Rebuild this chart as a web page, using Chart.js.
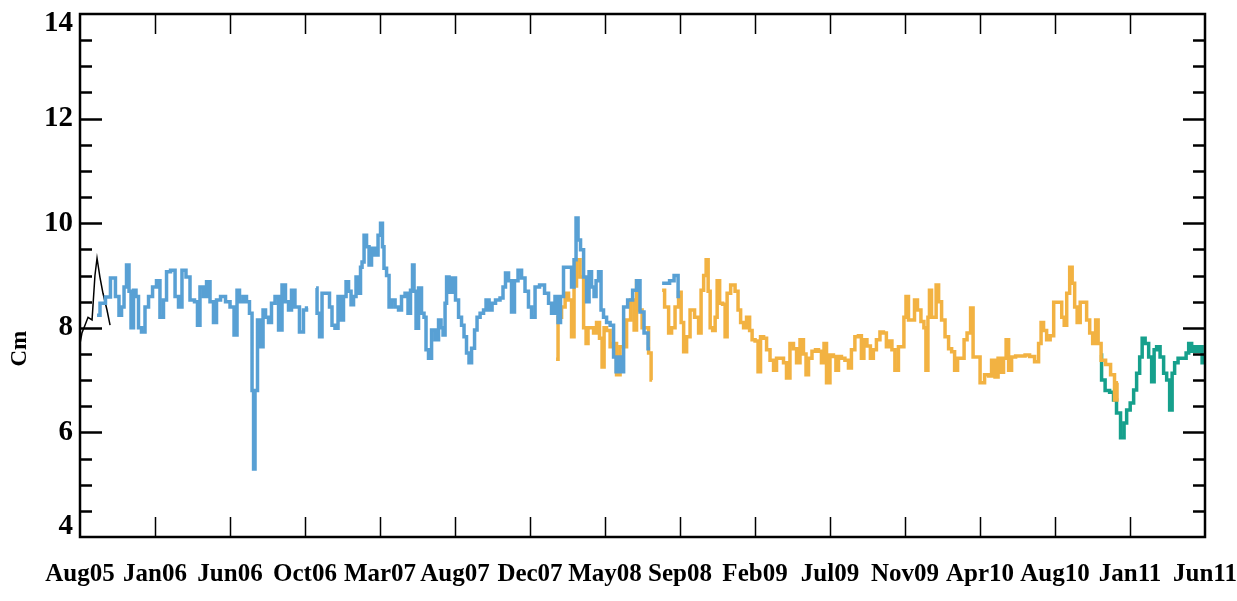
<!DOCTYPE html>
<html>
<head>
<meta charset="utf-8">
<script src="https://cdn.jsdelivr.net/npm/chart.js@4.4.0/dist/chart.umd.min.js"></script>
<style>
  html, body { margin: 0; padding: 0; background: #fff; }
  #wrap { width: 1237px; height: 601px; }
</style>
</head>
<body>
<div id="wrap"><canvas id="lineChart" width="1237" height="601"></canvas></div>
<script>
// x = months since Aug 2005, y = Cm
var tickLabels = ['Aug05', 'Jan06', 'Jun06', 'Oct06', 'Mar07', 'Aug07', 'Dec07', 'May08', 'Sep08',
    'Feb09', 'Jul09', 'Nov09', 'Apr10', 'Aug10', 'Jan11', 'Jun11'];
var spanMonths = 70;
var yTicks = [4, 6, 8, 10, 12, 14];
var yTitle = 'Cm';

var blackMonths = [0.00, 0.12, 0.31, 0.50, 0.75, 0.93, 1.06, 1.24, 1.43, 1.68, 1.87];
var blackCm = [7.70, 7.90, 8.05, 8.20, 8.15, 9.00, 9.33, 8.97, 8.66, 8.34, 8.05];

var blueMonths = [1.06, 1.43, 1.74, 2.05, 2.36, 2.49, 2.68, 2.80, 2.99, 3.11, 3.24, 3.42, 3.55, 3.73, 3.92,
    4.17, 4.36, 4.67, 4.85, 5.10, 5.29, 5.48, 5.79, 6.04, 6.22, 6.47, 6.72, 6.97, 7.28, 7.34, 7.59, 7.78,
    7.97, 8.21, 8.40, 8.59, 8.90, 9.21, 9.46, 9.71, 9.83, 10.02, 10.27, 10.45, 10.64, 10.77, 10.83, 10.95,
    11.14, 11.33, 11.45, 11.64, 11.82, 12.01, 12.26, 12.45, 12.69, 12.88, 13.07, 13.25, 13.50, 13.81,
    14.00, 14.19, 14.45,
    14.69, 14.81, 15.00, 15.12, 15.43, 15.62, 15.74, 15.99, 16.12, 16.30, 16.49, 16.62, 16.80, 16.93,
    17.11, 17.24, 17.42, 17.49, 17.61, 17.74, 17.92, 18.05, 18.23, 18.48, 18.61, 18.79, 18.85, 18.98,
    19.17, 19.29, 19.48, 19.73, 19.91, 20.10, 20.35, 20.47, 20.66, 20.72, 20.85, 20.97, 21.16, 21.34,
    21.47, 21.59, 21.78, 21.97, 22.22, 22.40, 22.53, 22.65, 22.78, 22.84, 23.09, 23.27, 23.46, 23.65,
    23.83, 23.96, 24.14, 24.27, 24.46, 24.64, 24.77, 25.02, 25.20, 25.33, 25.58, 25.70, 26.01, 26.26,
    26.38, 26.57, 26.76, 26.94, 27.13, 27.38, 27.57, 27.81, 28.00, 28.19, 28.44, 28.75, 29.06, 29.25,
    29.43, 29.68, 29.81, 29.99, 30.18, 30.49, 30.68, 30.80, 30.93, 31.05, 31.24, 31.43, 31.61, 31.74,
    31.92, 32.05, 32.17, 32.36, 32.48, 32.67, 32.86, 33.11, 33.29, 33.42, 33.60, 33.73, 33.92, 34.23,
    34.54, 34.72, 34.97, 35.22, 35.47, 35.85,
    36.22, 36.53, 36.84, 37.09, 37.34];
var blueCm = [8.24, 8.47, 8.59, 8.95, 8.60, 8.24, 8.40, 8.78, 9.20, 8.70, 8.00, 8.72, 8.60, 8.00, 7.92,
    8.40, 8.60, 8.78, 8.90, 8.20, 8.53, 9.07, 9.10, 8.60, 8.40, 9.10, 8.97, 8.53, 8.50, 8.05, 8.78, 8.60,
    8.88, 8.50, 8.10, 8.53, 8.60, 8.50, 8.40, 7.86, 8.72, 8.50, 8.60, 8.50, 8.28, 6.80, 5.30, 6.80,
    8.15, 7.64, 8.34, 8.20, 8.10, 8.47, 8.60, 7.96, 8.82, 8.50, 8.34, 8.72, 8.40, 7.92,
    8.34, 8.38, null,
    8.76, 8.28, 7.83, 8.66, 8.66, 8.40, 8.05, 7.99, 8.60, 8.15, 8.60, 8.88, 8.70, 8.44,
    8.60, 8.97, 8.66, 9.16, 9.26, 9.77, 9.55, 9.20, 9.52, 9.39, 9.77, 10.00, 9.55, 9.14,
    9.00, 8.40, 8.53, 8.40, 8.34, 8.60, 8.66, 8.28, 8.72, 9.20, 8.70, 7.99, 8.76, 8.28,
    8.20, 7.58, 7.42, 7.96, 7.77, 8.15, 8.00, 7.86, 8.47, 8.97, 8.68, 8.95, 8.53, 8.20,
    8.05, 7.83, 7.52, 7.33, 7.61, 7.96, 8.20, 8.28, 8.34, 8.53, 8.34, 8.47, 8.53, 8.57,
    8.78, 9.05, 8.90, 8.30, 8.90, 9.10, 8.95, 8.70, 8.40, 8.20, 8.78, 8.82, 8.66, 8.47,
    8.28, 8.60, 8.10, 8.60, 9.16, 9.16, 8.78, 9.30, 10.10, 9.68, 9.49, 8.97, 8.50, 9.07,
    8.78, 8.60, 8.90, 9.07, 8.34, 8.20, 8.10, 8.05, 7.44, 7.16, 7.44, 7.16, 8.40, 8.53,
    8.72, 8.90, 8.30, 7.90, 7.60, null,
    8.85, 8.85, 8.90, 9.00, 8.60];

var orangeMonths = [29.62, 29.87, 30.06, 30.31, 30.49, 30.68, 30.80, 30.99, 31.24, 31.43, 31.55, 31.67,
    31.86, 32.05, 32.23, 32.42, 32.55, 32.67, 32.86, 33.11, 33.29, 33.48, 33.73, 33.92, 34.10, 34.42,
    34.54, 34.72, 34.85, 35.10, 35.29, 35.47, 35.60, 35.90,
    36.22, 36.53, 36.72, 36.90, 37.15, 37.34, 37.47, 37.65, 37.84, 38.08, 38.40, 38.58, 38.71, 38.90,
    39.02, 39.15, 39.27, 39.46, 39.58, 39.71, 39.89, 40.08, 40.20, 40.33, 40.64, 40.88, 41.01, 41.20,
    41.38, 41.57, 41.76, 41.88, 42.13, 42.25, 42.44, 42.63, 42.81, 43.06, 43.25, 43.43, 43.68, 43.87,
    44.05, 44.30, 44.49, 44.68, 44.92, 45.11, 45.24, 45.42, 45.67, 45.86, 46.04, 46.23, 46.36, 46.54,
    46.79, 46.97, 47.10, 47.29, 47.47, 47.72, 47.91, 48.09, 48.34, 48.53, 48.71, 48.84, 49.09, 49.27,
    49.46, 49.65, 49.90, 50.08, 50.27, 50.46, 50.58, 50.83, 51.02, 51.20, 51.33, 51.46, 51.64, 51.83,
    52.02, 52.20, 52.45, 52.57, 52.70, 52.82, 52.89, 53.08, 53.21, 53.33, 53.52, 53.70, 53.95, 54.14,
    54.33, 54.51, 54.70, 54.95, 55.07, 55.32, 55.51, 55.63, 55.88, 56.13, 56.44, 56.63, 56.81, 57.06,
    57.19, 57.37, 57.56, 57.69, 57.87, 58.06, 58.37, 58.68, 58.93, 59.24, 59.55, 59.74, 59.86, 60.05,
    60.24, 60.49, 60.68, 60.99, 61.18, 61.30, 61.49, 61.67, 61.80, 61.98, 62.11, 62.36, 62.54, 62.73,
    62.92, 63.10, 63.29, 63.41, 63.66, 63.97, 64.28, 64.46, 64.59];
var orangeCm = [7.40, 8.20, 8.40, 8.66, 8.53, 7.83, 8.80, 9.30, 8.97, 8.00, 7.70, 8.00,
    8.00, 7.90, 8.10, 7.80, 7.25, 8.00, 7.95, 7.64, 7.70, 7.10, 7.64, 7.64, 8.15, 8.53,
    7.96, 8.90, 8.34, 8.00, 8.00, 7.52, 7.00, null,
    8.72, 8.40, 7.90, 8.00, 8.40, 8.68, 8.10, 7.54, 7.83, 8.34, 8.20, 7.90, 8.72, 9.00,
    9.30, 8.70, 8.00, 7.95, 8.20, 8.90, 8.47, 8.45, 7.83, 8.66, 8.82, 8.70, 8.34, 8.10,
    8.00, 8.20, 7.95, 7.77, 7.75, 7.16, 7.83, 7.80, 7.58, 7.38, 7.19, 7.42, 7.42, 7.33,
    7.04, 7.70, 7.60, 7.33, 7.77, 7.50, 7.10, 7.42, 7.55, 7.58, 7.55, 7.33, 7.70, 6.95,
    7.48, 7.45, 7.19, 7.45, 7.42, 7.38, 7.23, 7.58, 7.83, 7.85, 7.42, 7.77, 7.65, 7.42,
    7.58, 7.77, 7.92, 7.90, 7.64, 7.75, 7.58, 7.19, 7.64, 7.64, 8.20, 8.60, 8.15, 8.15,
    8.53, 8.34, 8.12, 8.00, 7.19, 8.20, 8.72, 8.20, 8.20, 8.82, 8.50, 8.15, 7.83, 7.60,
    7.54, 7.19, 7.42, 7.42, 7.77, 7.90, 8.38, 7.44, 7.44, 6.95, 7.10, 7.08, 7.38, 7.06,
    7.42, 7.15, 7.42, 7.77, 7.19, 7.44, 7.46, 7.46, 7.48, 7.45, 7.35, 7.70, 8.10, 7.95,
    7.77, 7.85, 8.49, 8.49, 8.20, 8.05, 8.66, 9.16, 8.85, 8.40, 8.10, 8.49, 8.49, 8.15,
    7.90, 7.70, 8.15, 7.70, 7.38, 7.30, 7.10, 6.62, 6.95];

var tealMonths = [63.47, 63.66, 63.91, 64.22, 64.40, 64.59, 64.90, 65.03, 65.22, 65.47, 65.65, 65.84,
    66.03, 66.15, 66.40, 66.59, 66.77, 66.90, 67.08, 67.33, 67.52, 67.71, 67.89, 68.02, 68.20, 68.45,
    68.76, 68.89, 69.08, 69.26, 69.39, 69.64, 69.76, 69.88, 70.00];
var tealCm = [7.48, 7.00, 6.80, 6.77, 6.62, 6.37, 5.90, 6.18, 6.43, 6.56, 6.81, 7.13,
    7.44, 7.80, 7.70, 7.44, 6.97, 7.58, 7.64, 7.44, 7.13, 7.00, 6.43, 7.13, 7.33, 7.42,
    7.42, 7.52, 7.70, 7.55, 7.64, 7.55, 7.64, 7.33, 7.44];

document.addEventListener('DOMContentLoaded', function () {
    var ctx = document.getElementById('lineChart').getContext('2d');
    var serif = "'Liberation Serif', 'DejaVu Serif', serif";

    function toPoints(xs, ys) {
        return xs.map(function (x, i) {
            return { x: x, y: ys[i] };
        });
    }

    function series(label, xs, ys, color, width, stepped) {
        return {
            label: label,
            data: toPoints(xs, ys),
            borderColor: color,
            borderWidth: width,
            borderJoinStyle: 'miter',
            pointRadius: 0,
            fill: false,
            stepped: stepped,
            spanGaps: false,
            tension: 0
        };
    }

    // frame, inward ticks on all four sides, rotated axis title
    var frameTicks = {
        id: 'frameTicks',
        afterDatasetsDraw: function (chart) {
            var c = chart.ctx;
            var a = chart.chartArea;
            var xs = chart.scales.x;
            var ys = chart.scales.y;
            c.save();
            c.strokeStyle = '#000';
            c.lineCap = 'butt';

            c.lineWidth = 2.5;
            for (var v = 4.5; v < 14; v += 0.5) {
                var py = Math.round(ys.getPixelForValue(v)) + 0.5;
                var len = (v % 2 === 0) ? 22 : 12;
                c.beginPath();
                c.moveTo(a.left, py);
                c.lineTo(a.left + len, py);
                c.moveTo(a.right, py);
                c.lineTo(a.right - len, py);
                c.stroke();
            }

            c.lineWidth = 1.5;
            xs.ticks.forEach(function (t, i) {
                if (i === 0 || i === xs.ticks.length - 1) return;
                var px = Math.round(xs.getPixelForValue(t.value)) + 0.5;
                c.beginPath();
                c.moveTo(px, a.top);
                c.lineTo(px, a.top + 20);
                c.moveTo(px, a.bottom);
                c.lineTo(px, a.bottom - 20);
                c.stroke();
            });

            c.lineWidth = 2.5;
            c.strokeRect(a.left, a.top, a.right - a.left, a.bottom - a.top);

            c.translate(20, ys.getPixelForValue(7.6));
            c.rotate(-Math.PI / 2);
            c.fillStyle = '#000';
            c.font = 'bold 23px ' + serif;
            c.textAlign = 'center';
            c.textBaseline = 'middle';
            c.fillText(yTitle, 0, 0);
            c.restore();
        }
    };

    new Chart(ctx, {
        type: 'line',
        data: {
            datasets: [
                series('blue', blueMonths, blueCm, 'rgb(88,160,212)', 3.5, 'middle'),
                series('orange', orangeMonths, orangeCm, 'rgb(242,178,66)', 3.5, 'middle'),
                series('teal', tealMonths, tealCm, 'rgb(22,160,140)', 3.5, 'middle'),
                series('black', blackMonths, blackCm, '#000', 1.5, false)
            ]
        },
        options: {
            responsive: false,
            animation: false,
            devicePixelRatio: 1,
            layout: { padding: { top: 14, right: 32, left: 0, bottom: 0 } },
            plugins: {
                legend: { display: false },
                tooltip: { enabled: false }
            },
            scales: {
                x: {
                    type: 'linear',
                    min: 0,
                    max: spanMonths,
                    grid: { display: false, drawTicks: false },
                    border: { display: false },
                    afterBuildTicks: function (scale) {
                        scale.ticks = tickLabels.map(function (l, i) {
                            return { value: i * spanMonths / (tickLabels.length - 1) };
                        });
                    },
                    afterFit: function (scale) {
                        scale.height = 64;
                        scale.paddingLeft = 0;
                        scale.paddingRight = 0;
                    },
                    ticks: {
                        autoSkip: false,
                        maxRotation: 0,
                        padding: 23,
                        color: '#000',
                        font: { family: serif, size: 25, weight: 'bold' },
                        callback: function (value, index) {
                            return tickLabels[index];
                        }
                    }
                },
                y: {
                    min: 4,
                    max: 14,
                    grid: { display: false, drawTicks: false },
                    border: { display: false },
                    afterBuildTicks: function (scale) {
                        scale.ticks = yTicks.map(function (v) { return { value: v }; });
                    },
                    afterFit: function (scale) {
                        scale.width = 80;
                        scale.paddingTop = 0;
                        scale.paddingBottom = 0;
                    },
                    ticks: {
                        padding: 7,
                        color: '#000',
                        font: { family: serif, size: 29, weight: 'bold', lineHeight: '20px' },
                        // nudge the end labels inside the frame, as in the original
                        callback: function (value, index, ticks) {
                            var s = String(value);
                            if (index === ticks.length - 1) return ['', s];
                            if (index === 0) return [s, ''];
                            return s;
                        }
                    }
                }
            }
        },
        plugins: [frameTicks]
    });
});
</script>
</body>
</html>
